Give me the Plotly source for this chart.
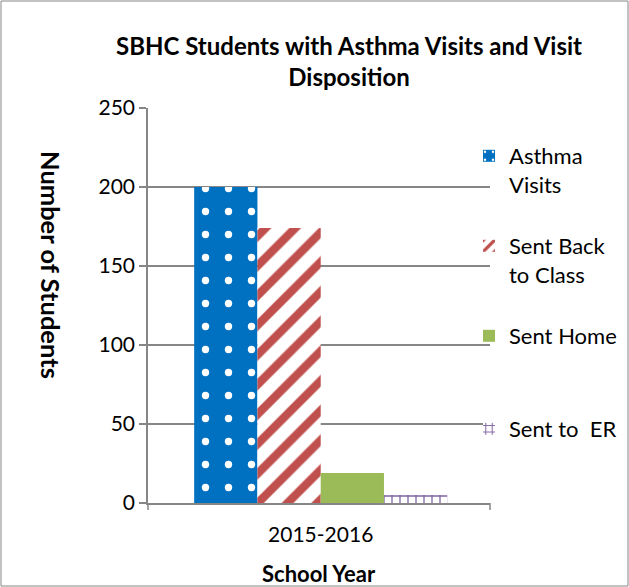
import plotly.graph_objects as go

categories = ["2015-2016"]
series_names = ["Asthma<br>Visits", "Sent Back<br>to Class", "Sent Home", "Sent to  ER"]
values = [[200], [174], [19], [5]]
y_ticks = [0, 50, 100, 150, 200, 250]

FONT = "Lato, 'Open Sans', sans-serif"

styles = [
    dict(color="#0070C0", pattern=dict(shape=".", fgcolor="white", bgcolor="#0070C0", size=23, solidity=0.08, fillmode="replace")),
    dict(color="white", pattern=dict(shape="/", fgcolor="#C0504D", bgcolor="white", size=21, solidity=0.4, fillmode="replace")),
    dict(color="#9BBB59"),
    dict(color="white", pattern=dict(shape="+", fgcolor="#8064A2", bgcolor="white", size=8, solidity=0.3, fillmode="replace")),
]
legend_ids = ["legend", "legend2", "legend3", "legend4"]

fig = go.Figure()
for name, vals, st, lid in zip(series_names, values, styles, legend_ids):
    fig.add_trace(go.Bar(x=categories, y=vals, name=name,
                         marker=dict(line=dict(width=0), **st),
                         legend=lid))

# plot area: x 148..490, y 108..503
def py(pix):
    return (503 - pix) / 395

def px(pix):
    return (pix - 148) / 342

legend_tops = [135, 225, 315, 408]
layout_legends = {}
for lid, top in zip(legend_ids, legend_tops):
    layout_legends[lid] = dict(x=px(469), y=py(top), xanchor="left", yanchor="top",
                               bgcolor="rgba(0,0,0,0)", font=dict(family=FONT, size=22, color="black"),
                               valign="top", itemwidth=30)

fig.update_layout(
    width=629, height=587,
    margin=dict(l=148, r=139, t=108, b=84, autoexpand=False),
    paper_bgcolor="white", plot_bgcolor="white",
    barmode="group", bargap=0.26, bargroupgap=0,
    title=dict(text="<b>SBHC Students with Asthma Visits and Visit<br>Disposition</b>",
               x=349 / 629, xanchor="center", y=1 - 55 / 587, yanchor="middle",
               font=dict(family=FONT, size=24, color="black")),
    font=dict(family=FONT, size=21, color="black"),
    xaxis=dict(showline=True, linecolor="#868686", linewidth=2, ticks="", range=[-0.505, 0.495],
               tickfont=dict(family=FONT, size=21), ticklabelstandoff=12),
    yaxis=dict(range=[0, 250], tickvals=y_ticks, showgrid=True, gridcolor="#868686", gridwidth=1.5,
               showline=True, linecolor="#868686", linewidth=1.5, ticks="outside", ticklen=7,
               tickcolor="#868686", tickwidth=1.5, zeroline=False,
               tickfont=dict(family=FONT, size=21)),
    showlegend=True,
    annotations=[
        dict(text="<b>Number of Students</b>", textangle=90, xref="paper", yref="paper",
             x=px(51), y=py(265), xanchor="center", yanchor="middle", showarrow=False,
             font=dict(family=FONT, size=25.5, color="black")),
        dict(text="<b>School Year</b>", xref="paper", yref="paper",
             x=px(319), y=py(573), xanchor="center", yanchor="middle", showarrow=False,
             font=dict(family=FONT, size=22, color="black")),
    ],
    **layout_legends,
)

shapes = [
    dict(type="rect", xref="paper", yref="paper",
         x0=px(1), x1=px(628), y0=py(586), y1=py(1),
         line=dict(color="#868686", width=1), fillcolor="rgba(0,0,0,0)", layer="below"),
]
for xv in [0, 1]:
    shapes.append(dict(type="line", xref="paper", yref="paper", x0=xv, x1=xv,
                       y0=0, y1=-7 / 395, line=dict(color="#868686", width=1.5)))
fig.update_layout(shapes=shapes)

fig.write_html("out.html", config={"displayModeBar": False},
               post_script="document.body.style.margin='0';")
